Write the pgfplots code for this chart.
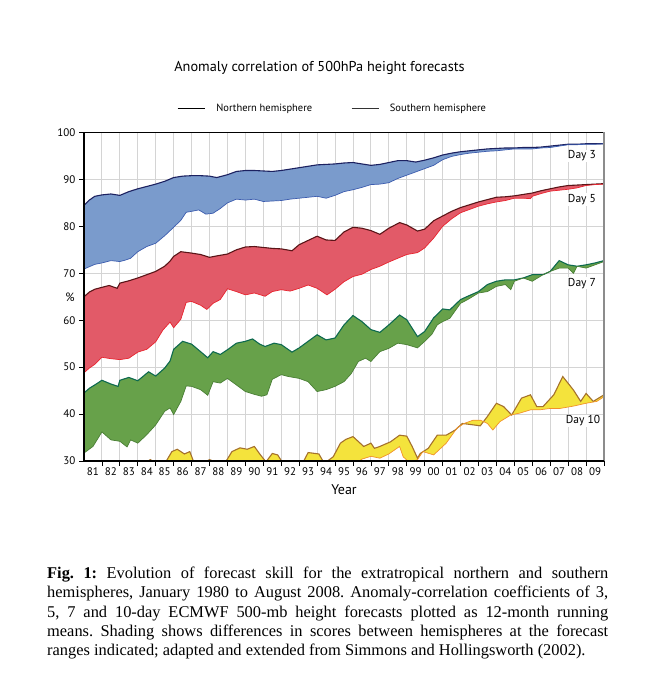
\documentclass[border=0pt]{standalone}
\usepackage{pgfplots}
\pgfplotsset{compat=1.18}
\usepackage{pgfplotstable}
\usepgfplotslibrary{fillbetween}
\usepackage{fontspec}
\setmainfont{Liberation Serif}
\newfontfamily\chartfont{PT Sans}

\definecolor{fill3}{HTML}{7A9BCC}
\definecolor{nh3}{HTML}{1C2160}
\definecolor{sh3}{HTML}{3C5CAE}
\definecolor{fill5}{HTML}{E25A68}
\definecolor{nh5}{HTML}{5A1518}
\definecolor{sh5}{HTML}{E8242F}
\definecolor{fill7}{HTML}{67A14A}
\definecolor{nh7}{HTML}{0E6A4F}
\definecolor{sh7}{HTML}{4A7F35}
\definecolor{fill10}{HTML}{F4E33C}
\definecolor{nh10}{HTML}{A5712C}
\definecolor{sh10}{HTML}{F2922A}
\definecolor{gridgray}{HTML}{D4D4D4}

% Day 3
\pgfplotstableread{
x y
1981.0 84.5
1981.3 85.6
1981.6 86.4
1982.0 86.7
1982.5 86.9
1983.0 86.6
1983.5 87.4
1984.0 88.0
1984.5 88.5
1985.0 89.0
1985.5 89.6
1986.0 90.4
1986.5 90.7
1987.0 90.8
1987.5 90.8
1988.0 90.7
1988.4 90.4
1989.0 91.0
1989.5 91.7
1990.0 91.9
1990.5 91.9
1991.0 91.8
1991.5 91.7
1992.0 91.9
1992.5 92.2
1993.0 92.5
1993.5 92.8
1994.0 93.1
1994.5 93.2
1995.0 93.3
1995.5 93.5
1996.0 93.6
1996.5 93.3
1997.0 93.0
1997.5 93.2
1998.0 93.6
1998.5 94.0
1999.0 94.0
1999.5 93.7
2000.0 94.1
2000.5 94.6
2001.0 95.2
2001.5 95.6
2002.0 95.9
2002.5 96.1
2003.0 96.3
2003.5 96.5
2004.0 96.6
2004.5 96.7
2005.0 96.7
2005.5 96.8
2006.0 96.8
2006.5 96.9
2007.0 97.1
2007.5 97.3
2008.0 97.5
2008.5 97.5
2009.0 97.6
2009.5 97.6
2010.0 97.6
}\nhthree
\pgfplotstableread{
x y
1981.0 70.9
1981.3 71.4
1981.6 71.9
1982.0 72.2
1982.5 72.7
1983.0 72.5
1983.3 72.8
1983.6 73.2
1984.0 74.6
1984.5 75.7
1985.0 76.4
1985.5 78.0
1986.0 79.8
1986.4 81.3
1986.7 83.0
1987.0 83.2
1987.4 83.5
1987.8 82.6
1988.2 82.8
1988.6 83.8
1989.0 85.0
1989.5 85.8
1990.0 85.6
1990.5 85.8
1991.0 85.3
1991.5 85.4
1992.0 85.5
1992.5 85.8
1993.0 86.0
1993.5 86.2
1994.0 86.4
1994.5 86.0
1995.0 86.6
1995.5 87.4
1996.0 87.8
1996.5 88.3
1997.0 88.9
1997.5 89.0
1998.0 89.3
1998.5 90.2
1999.0 90.9
1999.5 91.6
2000.0 92.3
2000.5 93.0
2001.0 94.2
2001.5 94.9
2002.0 95.3
2002.5 95.6
2003.0 95.8
2003.5 96.0
2004.0 96.1
2004.5 96.3
2005.0 96.5
2005.5 96.5
2006.0 96.5
2006.5 96.7
2007.0 96.8
2007.5 97.1
2008.0 97.4
2008.5 97.4
2009.0 97.5
2009.5 97.5
2010.0 97.6
}\shthree

% Day 5
\pgfplotstableread{
x y
1981.0 65.0
1981.3 66.0
1981.6 66.6
1982.0 67.0
1982.4 67.4
1982.85 66.8
1983.0 67.9
1983.5 68.4
1984.0 69.0
1984.5 69.7
1985.0 70.4
1985.5 71.5
1985.8 72.6
1986.0 73.6
1986.4 74.6
1987.0 74.3
1987.5 74.0
1988.0 73.4
1988.4 73.7
1989.0 74.1
1989.5 75.0
1990.0 75.6
1990.5 75.7
1991.0 75.5
1991.5 75.3
1992.0 75.2
1992.6 74.8
1993.0 76.1
1993.5 77.0
1994.0 77.9
1994.5 77.1
1995.0 77.0
1995.5 78.8
1996.0 79.8
1996.5 79.6
1997.0 79.1
1997.5 78.3
1998.0 79.6
1998.6 80.8
1999.0 80.3
1999.6 79.0
2000.0 79.4
2000.5 81.2
2001.0 82.2
2001.5 83.2
2002.0 84.0
2002.5 84.6
2003.0 85.2
2003.5 85.7
2004.0 86.2
2004.5 86.3
2005.0 86.5
2005.5 86.8
2006.0 87.1
2006.5 87.6
2007.0 88.0
2007.5 88.4
2008.0 88.7
2008.5 88.8
2009.0 88.9
2009.5 89.0
2010.0 89.1
}\nhfive
\pgfplotstableread{
x y
1981.0 48.8
1981.3 49.8
1981.6 50.6
1982.0 52.1
1982.5 51.8
1983.0 51.6
1983.5 51.9
1984.0 53.2
1984.5 53.8
1985.0 55.4
1985.4 57.9
1985.8 59.6
1986.0 58.4
1986.4 60.2
1986.7 63.8
1987.0 64.0
1987.5 63.2
1987.85 62.3
1988.2 63.6
1988.6 64.4
1989.0 66.7
1989.5 66.1
1990.0 65.4
1990.5 65.8
1991.1 65.1
1991.5 66.1
1992.0 66.5
1992.5 66.2
1993.0 66.8
1993.5 67.5
1994.0 66.8
1994.55 65.4
1995.0 66.6
1995.5 68.2
1996.0 69.3
1996.5 69.8
1997.0 70.8
1997.5 71.5
1998.0 72.4
1998.5 73.2
1999.0 74.0
1999.6 74.4
2000.0 75.4
2000.5 77.5
2001.0 80.0
2001.5 81.6
2002.0 82.9
2002.5 83.6
2003.0 84.3
2003.5 84.8
2004.0 85.2
2004.5 85.5
2005.0 86.0
2005.5 86.0
2005.9 85.9
2006.0 86.4
2006.5 87.0
2007.0 87.5
2007.5 87.7
2008.0 87.9
2008.5 88.2
2009.0 88.7
2009.5 88.9
2010.0 89.0
}\shfive

% Day 7
\pgfplotstableread{
x y
1981.0 44.5
1981.3 45.5
1981.6 46.2
1982.0 47.2
1982.5 46.4
1982.9 45.9
1983.0 47.2
1983.5 47.8
1984.0 47.1
1984.6 49.0
1985.0 48.1
1985.5 49.8
1985.8 51.3
1986.0 53.8
1986.5 55.5
1987.0 54.9
1987.5 53.3
1987.9 52.0
1988.2 53.3
1988.6 52.7
1989.0 53.7
1989.5 55.1
1990.0 55.5
1990.4 56.0
1990.8 54.9
1991.1 54.4
1991.6 55.1
1992.0 54.8
1992.6 53.2
1993.0 54.1
1993.5 55.5
1994.0 56.9
1994.5 55.8
1995.0 56.2
1995.5 59.0
1996.0 61.0
1996.5 59.7
1997.0 58.0
1997.5 57.4
1998.0 59.0
1998.6 61.1
1999.0 60.1
1999.6 56.5
2000.0 57.6
2000.5 60.5
2001.0 62.4
2001.4 62.2
2002.0 64.4
2002.4 65.1
2003.0 66.1
2003.5 67.6
2004.0 68.3
2004.5 68.6
2005.0 68.6
2005.5 69.0
2006.0 69.7
2006.6 69.7
2007.0 70.4
2007.5 72.7
2008.0 71.8
2008.5 71.5
2009.0 71.8
2009.5 72.2
2010.0 72.7
}\nhseven
\pgfplotstableread{
x y
1981.0 31.7
1981.5 33.1
1982.0 36.2
1982.5 34.5
1983.0 34.2
1983.4 33.0
1983.6 34.5
1984.0 33.8
1984.5 35.6
1985.0 37.7
1985.5 40.6
1985.8 41.3
1986.0 39.9
1986.4 42.7
1986.7 46.0
1987.0 45.9
1987.5 45.2
1987.9 44.0
1988.2 46.9
1988.6 46.6
1989.0 47.6
1989.5 46.2
1990.0 44.8
1990.5 44.2
1990.9 43.8
1991.2 44.1
1991.5 47.4
1992.0 48.4
1992.4 48.0
1993.0 47.6
1993.5 46.9
1994.0 44.8
1994.5 45.2
1995.0 45.9
1995.5 46.9
1995.9 48.6
1996.3 51.2
1996.7 51.9
1997.0 51.2
1997.5 53.3
1998.0 54.0
1998.5 55.1
1999.0 54.8
1999.6 54.1
2000.0 55.5
2000.4 57.0
2000.7 59.0
2001.0 59.7
2001.4 60.4
2002.0 63.6
2002.4 64.4
2003.0 65.8
2003.5 66.1
2004.0 67.2
2004.5 67.6
2004.8 66.5
2005.0 68.3
2005.5 69.0
2006.0 68.3
2006.6 69.7
2007.0 70.4
2007.5 71.1
2008.0 71.1
2008.3 70.0
2008.5 71.5
2009.0 71.1
2009.5 71.8
2010.0 72.5
}\shseven

% Day 10
\pgfplotstableread{
x y
1981.0 27.0
1982.0 27.5
1983.0 28.0
1984.0 28.8
1984.4 29.6
1984.7 30.3
1985.0 29.5
1985.5 29.4
1985.9 32.0
1986.2 32.5
1986.6 31.5
1986.9 32.0
1987.1 30.0
1987.5 29.2
1988.0 30.3
1988.5 29.5
1988.9 29.8
1989.25 32.0
1989.7 32.8
1990.1 32.5
1990.5 33.1
1990.8 31.5
1991.15 29.8
1991.5 31.6
1991.8 31.3
1992.1 29.5
1992.6 28.8
1993.2 29.6
1993.5 31.8
1994.1 31.5
1994.4 29.5
1994.9 30.9
1995.3 33.8
1995.6 34.6
1996.0 35.2
1996.6 33.1
1997.0 33.8
1997.2 32.7
1997.5 33.1
1998.1 34.1
1998.6 35.5
1999.0 35.3
1999.3 33.1
1999.6 30.6
1999.75 31.6
2000.2 32.7
2000.7 35.5
2001.2 35.5
2001.7 36.6
2002.1 38.0
2002.7 37.7
2003.1 37.5
2003.5 39.5
2004.0 42.3
2004.4 41.6
2004.85 39.8
2005.4 43.4
2005.9 44.1
2006.25 41.6
2006.6 41.6
2007.2 44.1
2007.7 48.0
2008.3 45.1
2008.7 42.7
2009.0 44.4
2009.4 42.7
2010.0 44.1
}\nhten
\pgfplotstableread{
x y
1981.0 20.0
1984.0 22.5
1988.0 24.5
1992.0 26.0
1995.0 27.5
1996.0 29.0
1996.5 30.4
1997.0 31.0
1997.5 30.6
1998.0 31.5
1998.6 33.1
1998.8 30.9
1999.2 29.5
1999.6 30.3
1999.9 32.0
2000.5 31.3
2001.2 33.8
2001.8 37.0
2002.2 38.0
2002.7 38.7
2003.1 38.7
2003.5 38.0
2003.8 36.6
2004.2 38.4
2004.8 39.8
2005.3 40.2
2005.9 40.9
2006.4 40.9
2007.0 41.2
2007.55 41.2
2008.3 41.7
2009.0 42.3
2009.6 42.7
2010.0 43.7
}\shten

\begin{document}
\begin{tikzpicture}[x=1pt,y=1pt]
\path (0pt,0pt) rectangle (644pt,676pt);

\node[font=\chartfont\fontsize{14.3}{16}\selectfont] at (319.5pt,607.7pt) {Anomaly correlation of 500hPa height forecasts};

\begin{axis}[
  at={(84pt,215pt)}, anchor=south west,
  scale only axis, width=520pt, height=328.5pt,
  set layers,
  xmin=1981, xmax=2010, ymin=30, ymax=100,
  axis line style={draw=none},
  xtick={1982,1983,...,2010}, xticklabels={},
  extra x ticks={1981.5,1982.5,...,2009.5},
  extra x tick labels={81,82,83,84,85,86,87,88,89,90,91,92,93,94,95,96,97,98,99,00,01,02,03,04,05,06,07,08,09},
  extra x tick style={grid=none, major tick length=0pt},
  ytick={30,40,...,100},
  xmajorgrids, ymajorgrids,
  grid style={gridgray, line width=0.9pt},
  tick align=outside, major tick length=5pt,
  xtick pos=bottom, ytick pos=left,
  tick style={black, line width=0.8pt},
  tick label style={font=\chartfont\fontsize{11}{13}\selectfont},
  /pgf/number format/assume math mode=true,
  xticklabel style={yshift=-3.5pt},
  legend style={at={(0.478,1.0737)}, anchor=center, draw=none, fill=none,
    legend columns=2, font=\chartfont\fontsize{10.5}{13}\selectfont,
    /tikz/every odd column/.append style={column sep=8.5pt},
    /tikz/every even column/.append style={column sep=37pt}},
  legend image code/.code={\draw[#1] (0pt,0pt) -- (27.5pt,0pt);},
]
\addlegendimage{black, line width=1.3pt}
\addlegendentry{Northern hemisphere}
\addlegendimage{black!80, line width=0.7pt}
\addlegendentry{Southern hemisphere}

\addplot[nh3, line width=1.1pt, name path=n3] table {\nhthree};
\addplot[sh3, line width=0.7pt, name path=s3] table {\shthree};
\addplot[fill=fill3, draw=none] fill between[of=n3 and s3];

\addplot[nh5, line width=1.1pt, name path=n5] table {\nhfive};
\addplot[sh5, line width=0.7pt, name path=s5] table {\shfive};
\addplot[fill=fill5, draw=none] fill between[of=n5 and s5];

\addplot[nh7, line width=1.1pt, name path=n7] table {\nhseven};
\addplot[sh7, line width=0.7pt, name path=s7] table {\shseven};
\addplot[fill=fill7, draw=none] fill between[of=n7 and s7];

\addplot[nh10, line width=1.1pt, name path=n10] table {\nhten};
\addplot[sh10, line width=0.7pt, name path=s10] table {\shten};
\addplot[fill=fill10, draw=none] fill between[of=n10 and s10];

\node[fill=white, inner sep=1pt, font=\chartfont\fontsize{11.5}{13}\selectfont] at (axis cs:2008.77,95.0) {Day 3};
\node[fill=white, inner sep=1pt, font=\chartfont\fontsize{11.5}{13}\selectfont] at (axis cs:2008.77,85.7) {Day 5};
\node[fill=white, inner sep=1pt, font=\chartfont\fontsize{11.5}{13}\selectfont] at (axis cs:2008.77,67.9) {Day 7};
\node[fill=white, inner sep=1pt, font=\chartfont\fontsize{11.5}{13}\selectfont] at (axis cs:2008.83,38.55) {Day 10};
\end{axis}

% frame
\draw[black, line width=0.9pt] (84pt,543.5pt) -- (604pt,543.5pt);
\draw[black!45, line width=1.6pt] (604pt,215pt) -- (604pt,543.5pt);
\draw[black, line width=1.3pt] (84pt,543.5pt) -- (84pt,215pt) -- (604pt,215pt);

\node[font=\chartfont\fontsize{12}{14}\selectfont] at (70pt,379pt) {\%};
\node[font=\chartfont\fontsize{14}{16}\selectfont] at (344pt,186pt) {Year};

\node[anchor=north west, inner sep=0pt, text width=561pt, align=justify,
  font=\fontsize{16.4}{19.25}\selectfont] at (47pt,109pt)
  {\frenchspacing\textbf{Fig. 1:} Evolution of forecast skill for the extratropical northern and southern\linebreak
  hemispheres, January 1980 to August 2008. Anomaly-correlation coefficients of 3,\linebreak
  5, 7 and 10-day ECMWF 500-mb height forecasts plotted as 12-month running\linebreak
  means. Shading shows differences in scores between hemispheres at the forecast\linebreak
  ranges indicated; adapted and extended from Simmons and Hollingsworth (2002).};
\end{tikzpicture}
\end{document}
